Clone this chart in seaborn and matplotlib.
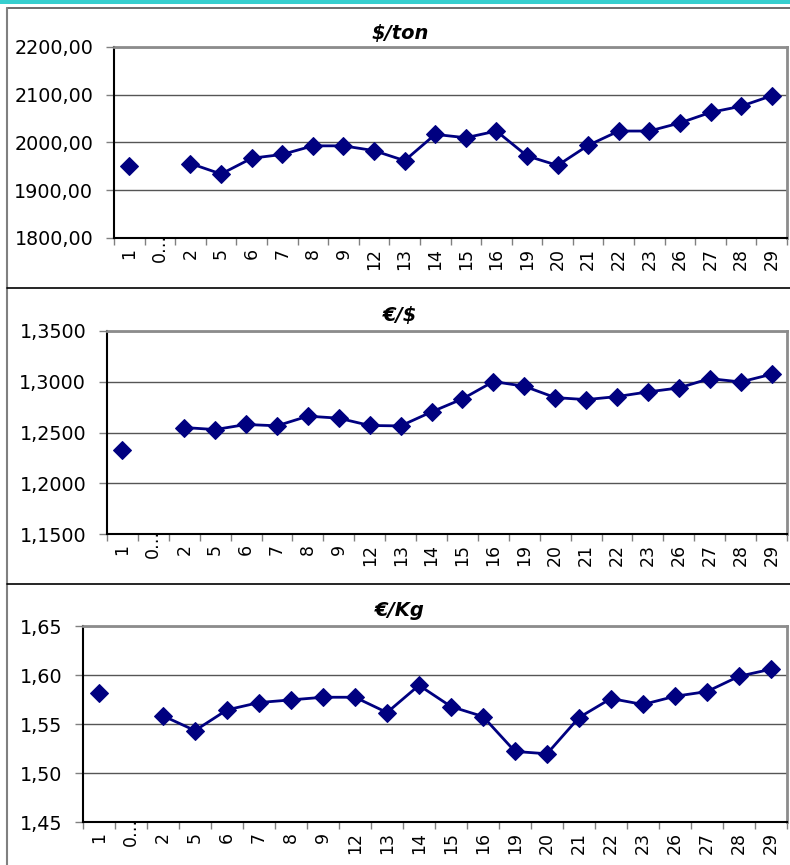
import numpy as np
import pandas as pd
import seaborn as sns
import matplotlib.pyplot as plt
from matplotlib.lines import Line2D
from matplotlib.patches import Rectangle
from matplotlib.ticker import FixedLocator, FuncFormatter
from matplotlib.transforms import ScaledTranslation

# categories on the x axis (days); "0…" has no value
days = ['1', '0…', '2', '5', '6', '7', '8', '9', '12', '13', '14', '15', '16',
        '19', '20', '21', '22', '23', '26', '27', '28', '29']

usd_ton = [1950, np.nan, 1956, 1934, 1967, 1975, 1993, 1993, 1983, 1962, 2017,
           2010, 2024, 1972, 1952, 1994, 2024, 2024, 2041, 2063, 2076, 2098]
eur_usd = [1.2326, np.nan, 1.2549, 1.2529, 1.2579, 1.2566, 1.2661, 1.2641,
           1.2569, 1.2565, 1.2703, 1.2831, 1.3002, 1.2956, 1.2844, 1.2824,
           1.2854, 1.2900, 1.2939, 1.3031, 1.2998, 1.3074]
eur_kg = [1.5817, np.nan, 1.5583, 1.5433, 1.5644, 1.5719, 1.5746, 1.5773,
          1.5773, 1.5617, 1.5895, 1.5678, 1.5576, 1.5220, 1.5196, 1.5566,
          1.5760, 1.5699, 1.5783, 1.5831, 1.5987, 1.6059]

titles = ['$/ton', '€/$', '€/Kg']
y_ranges = [(1800, 2200, 100), (1.15, 1.35, 0.05), (1.45, 1.65, 0.05)]
y_decimals = [2, 4, 2]

sns.set_style('white')
plt.rcParams['font.family'] = ['DejaVu Sans']
plt.rcParams['text.color'] = 'black'
plt.rcParams['xtick.color'] = 'black'
plt.rcParams['ytick.color'] = 'black'

W, H = 790, 865
fig = plt.figure(figsize=(W / 100, H / 100), dpi=100)

# plot areas in pixels: left, top, right, bottom
areas = [(114, 47, 787, 238), (107, 331, 787, 534), (83, 626, 787, 822)]
title_y = [33, 315, 611]
navy = '#000080'

# frame around the panels and the teal band on top
fig.add_artist(Rectangle((0, 1 - 3.5 / H), 1, 3.5 / H, transform=fig.transFigure,
                         color='#36cfcf', lw=0))
fig.add_artist(Line2D([7 / W, 1], [1 - 7.5 / H] * 2, transform=fig.transFigure,
                      color='#555555', lw=1.2))
fig.add_artist(Line2D([7 / W] * 2, [0, 1 - 7.5 / H], transform=fig.transFigure,
                      color='#808080', lw=1.5))
for sep in [288, 584]:
    fig.add_artist(Line2D([7 / W, 1], [1 - sep / H] * 2, transform=fig.transFigure,
                          color='black', lw=1.2))

series = [usd_ton, eur_usd, eur_kg]
for vals, title, (lo, hi, step), dec, (l, t, r, b), ty in zip(
        series, titles, y_ranges, y_decimals, areas, title_y):
    ax = fig.add_axes([l / W, 1 - b / H, (r - l) / W, (b - t) / H])
    df = pd.DataFrame({'pos': np.arange(len(days)), 'val': vals})
    # a gap in the data starts a new run so the line breaks there
    df['run'] = df['val'].isna().cumsum()
    df = df.dropna()
    sns.lineplot(data=df, x='pos', y='val', units='run', estimator=None,
                 color=navy, lw=2, marker='D', markersize=9,
                 markeredgecolor=navy, ax=ax)

    ax.set_xlim(-0.5, len(days) - 0.5)
    ax.set_ylim(lo, hi)
    ax.set_yticks(np.arange(lo, hi + step / 2, step))
    ax.yaxis.set_major_formatter(
        FuncFormatter(lambda v, p, d=dec: f'{v:.{d}f}'.replace('.', ',')))
    ax.set_xticks(np.arange(len(days)))
    ax.set_xticklabels(days, rotation=90)
    ax.xaxis.set_minor_locator(FixedLocator(np.arange(len(days) + 1) - 0.5))
    ax.tick_params(axis='x', which='major', length=0, pad=7, labelsize=12.5)
    ax.tick_params(axis='x', which='minor', length=5, width=1, color='#808080',
                   direction='out', bottom=True)
    ax.tick_params(axis='y', length=6, width=1, color='#808080', direction='out',
                   left=True, pad=9, labelsize=13.8)
    # the truncated label sticks up past the axis, as in the source chart
    for lab in ax.get_xticklabels():
        if lab.get_text().endswith('…'):
            lab.set_transform(lab.get_transform()
                              + ScaledTranslation(0, 14 / 100, fig.dpi_scale_trans))
    ax.grid(axis='y', color='#555555', lw=1)
    ax.set_axisbelow(True)
    ax.set_xlabel('')
    ax.set_ylabel('')
    for side in ['top', 'right']:
        ax.spines[side].set_color('#8c8c8c')
        ax.spines[side].set_linewidth(2)
    for side in ['left', 'bottom']:
        ax.spines[side].set_color('black')
        ax.spines[side].set_linewidth(1.5)

    fig.text(400 / W, 1 - ty / H, title, ha='center', va='center',
             fontsize=14, fontweight='bold', fontstyle='italic')

fig.savefig('out.png', dpi=100)
